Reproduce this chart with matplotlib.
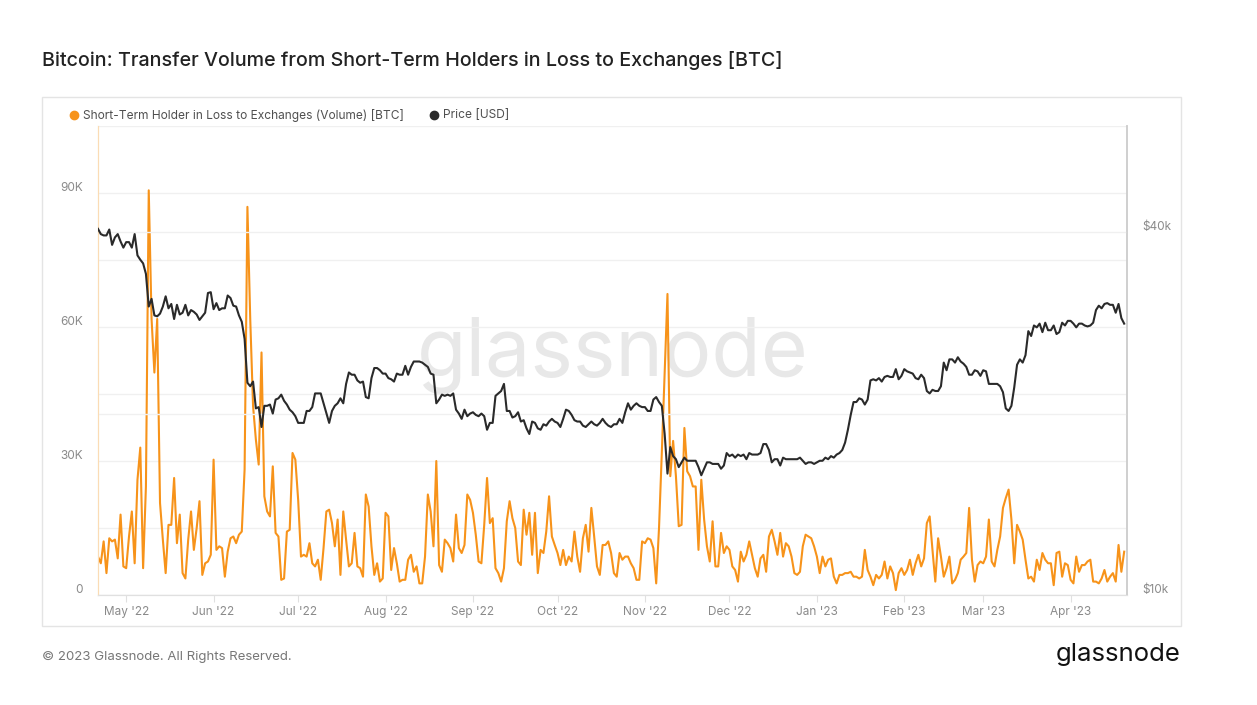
import matplotlib
matplotlib.use("Agg")
import matplotlib.pyplot as plt
import matplotlib.dates as mdates
import matplotlib.transforms as mtransforms
from matplotlib.lines import Line2D
from matplotlib.patches import Rectangle
from matplotlib.ticker import FixedLocator, FuncFormatter, NullFormatter
import pandas as pd

plt.rcParams["font.family"] = ["Inter", "DejaVu Sans"]

# daily series, first day 2022-04-21
START = "2022-04-21"

# STH in loss -> exchanges, thousands of BTC
volume_k = [
    8.6, 7.1, 12.0, 4.9, 12.7, 12.0, 12.4, 8.2, 18.0, 6.4,
    6.0, 13.1, 18.7, 7.1, 25.8, 33.0, 6.0, 24.3, 90.6, 61.8,
    49.8, 61.8, 20.6, 12.4, 4.9, 15.7, 15.7, 26.2, 11.6, 18.0,
    4.9, 3.7, 12.4, 18.7, 10.1, 15.0, 21.0, 4.5, 7.1, 7.5,
    9.0, 30.3, 10.1, 10.9, 10.5, 4.1, 9.7, 12.7, 13.1, 11.6,
    13.5, 14.2, 28.1, 86.9, 61.8, 42.3, 34.8, 29.2, 54.3, 22.1,
    18.7, 17.6,
    28.8, 13.9, 13.1, 3.4, 3.7, 14.2, 14.6, 31.8, 30.3, 21.3,
    8.6, 9.0, 8.6, 11.6, 7.1, 6.4, 7.9, 3.4, 10.5, 18.7,
    19.1, 16.1, 10.9, 16.9, 4.5, 18.7, 12.4, 6.4, 7.1, 13.9,
    6.4, 6.0, 4.1, 22.5, 19.8, 10.9, 4.5, 7.1, 3.0, 3.7,
    18.4, 17.6, 5.6, 10.5, 7.1, 3.0, 3.4, 3.4, 7.9, 9.0,
    5.2, 6.4, 2.6, 2.6, 8.6, 22.5, 18.7, 10.9, 30.0,
    6.7, 5.2, 12.4, 11.6, 10.5, 7.5, 18.0, 10.5, 9.4, 11.2,
    22.5, 21.3, 18.4, 13.5, 7.5, 7.1, 15.7, 26.2, 16.1, 17.2,
    6.0, 4.9, 3.0, 6.0, 16.5, 21.0, 17.2, 15.0, 7.5, 6.7,
    19.1, 13.5, 18.4, 9.0, 18.4, 4.9, 10.1, 9.4, 14.2, 22.1,
    13.1, 11.2, 9.4, 6.7, 10.1, 6.7, 8.6, 7.5, 14.2, 8.6,
    5.2, 12.7, 15.7, 9.7, 19.5, 13.1, 6.4, 4.5, 11.2, 11.2,
    12.0,
    9.4, 4.9, 4.1, 9.4, 7.9, 8.6, 8.6, 7.1, 6.0, 3.4,
    3.4, 12.0, 11.6, 12.7, 12.4, 10.5, 2.6, 15.0, 32.0, 50.0,
    67.4,
    26.6, 34.5, 26.6, 15.4, 15.7, 37.4, 27.7, 26.6, 24.3, 24.3,
    10.1, 25.8, 16.9, 10.9, 7.5, 16.5, 6.4, 6.4, 13.9, 9.4,
    10.9, 10.1, 6.4, 5.6, 3.0, 9.7, 7.5, 9.0, 12.0, 9.0,
    6.0, 4.1, 8.2, 9.0, 5.2, 13.1, 14.6, 12.0, 9.0,
    13.9, 8.6, 11.6, 10.9, 8.6, 4.9, 4.5, 5.2, 10.9, 13.5,
    13.1, 12.7, 10.9, 8.6, 4.9, 8.6, 6.4, 7.9, 8.2, 4.1,
    2.6, 4.5, 4.5, 4.9, 4.9, 5.2, 4.1, 4.1, 3.7, 4.1,
    10.1, 5.6, 4.1, 2.2, 4.5, 3.7, 4.5, 7.5, 3.7, 6.4,
    4.9, 1.1, 4.9, 6.0, 4.5, 5.6, 7.9, 4.5, 7.1, 9.0,
    6.4, 8.2, 16.1, 17.6, 10.1, 3.0, 12.7, 8.6, 4.1, 6.0,
    8.6,
    2.6, 3.4, 4.9, 7.9, 8.6, 9.4, 19.5, 7.9, 3.0, 6.7,
    7.5, 7.1, 8.6, 16.9, 7.5, 6.4, 10.1, 13.1, 19.5, 21.7,
    23.6, 16.9, 7.1, 15.7, 14.2, 12.4, 7.9, 3.7, 4.1, 3.0,
    7.9, 5.6, 9.4, 7.9, 7.1, 7.1, 2.2, 9.4, 9.7, 4.1,
    7.1, 6.7, 3.4, 2.6, 8.6, 5.2, 6.7, 6.7, 7.5, 7.9,
    3.0, 3.0, 2.6, 3.7, 5.6, 3.0, 4.1, 4.9, 3.0, 11.2,
    5.2, 9.7,
]

# BTC price, thousands of USD
price_k = [
    40.5, 39.7, 39.5, 39.5, 40.4, 38.1, 39.2, 39.7, 38.6, 37.7,
    # May
    38.5, 38.5, 37.7, 39.7, 36.6, 36.0, 35.5, 34.1, 30.1, 31.0, 29.1, 29.0, 29.3, 30.1, 31.3, 29.9,
    30.4, 28.7, 30.3, 29.2, 29.4, 30.3, 29.1, 29.7, 29.5, 29.2, 28.6, 29.0, 29.4, 31.7, 31.8,
    # Jun
    29.8, 30.5, 29.7, 29.9, 29.9, 31.4, 31.1, 30.2, 30.1, 29.1, 28.4, 26.6, 22.5, 22.2, 22.6,
    20.4, 20.5, 19.0, 20.6, 20.6, 20.7, 20.0, 21.1, 21.2, 21.5, 21.0, 20.7, 20.3, 20.1, 19.8,
    # Jul
    19.3, 19.3, 19.3, 20.2, 20.2, 20.5, 21.6, 21.6, 21.6, 20.8, 20.0, 19.3, 20.2, 20.6, 20.8, 21.2,
    20.8, 22.4, 23.4, 23.2, 23.2, 22.7, 22.5, 22.6, 21.3, 21.2, 22.9, 23.8, 23.8, 23.6, 23.3,
    # Aug
    23.3, 22.9, 22.8, 22.6, 23.3, 23.2, 23.2, 24.0, 23.2, 23.9, 24.4, 24.4, 24.4, 24.3, 24.1, 23.9,
    23.3, 23.2, 20.8, 21.1, 21.5, 21.4, 21.5, 21.4, 21.6, 20.3, 20.0, 19.6, 20.3, 19.8, 20.0,
    # Sep
    20.1, 19.9, 19.8, 20.0, 19.8, 18.8, 19.3, 19.3, 21.4, 21.6, 21.8, 22.4, 20.2, 20.2, 19.7,
    19.8, 20.1, 19.4, 19.5, 18.9, 18.5, 19.4, 19.3, 18.9, 18.8, 19.2, 19.1, 19.4, 19.6, 19.4,
    # Oct
    19.3, 19.0, 19.6, 20.3, 20.2, 19.9, 19.5, 19.4, 19.4, 19.1, 19.0, 19.2, 19.4, 19.2, 19.1, 19.3,
    19.6, 19.3, 19.1, 19.0, 19.2, 19.2, 19.6, 19.3, 20.1, 20.8, 20.3, 20.6, 20.8, 20.6, 20.5,
    # Nov
    20.5, 20.2, 20.2, 21.1, 21.3, 20.9, 20.6, 18.5, 15.9, 17.6, 17.0, 16.8, 16.3, 16.6, 16.9,
    16.7, 16.7, 16.7, 16.7, 16.3, 15.8, 16.2, 16.6, 16.6, 16.5, 16.5, 16.5, 16.2, 16.4, 17.2,
    # Dec
    17.0, 17.1, 16.9, 17.1, 17.0, 17.1, 16.8, 17.2, 17.1, 17.1, 17.1, 17.2, 17.8, 17.8, 17.4, 16.6,
    16.8, 16.8, 16.4, 16.9, 16.8, 16.8, 16.8, 16.8, 16.8, 16.9, 16.7, 16.5, 16.6, 16.6, 16.5,
    # Jan
    16.6, 16.7, 16.7, 16.9, 16.8, 17.0, 16.9, 17.1, 17.2, 17.4, 17.9, 18.8, 19.9, 20.9, 20.9, 21.2,
    21.1, 20.7, 21.1, 22.7, 22.8, 22.7, 22.9, 22.6, 23.0, 23.1, 23.0, 23.0, 23.7, 22.8, 23.1,
    # Feb
    23.7, 23.5, 23.4, 23.3, 22.9, 22.8, 23.2, 22.9, 21.8, 21.6, 21.9, 21.8, 21.8, 22.2,
    24.3, 23.6, 24.6, 24.6, 24.3, 24.8, 24.4, 24.2, 23.9, 23.2, 23.2, 23.6, 23.5, 23.1,
    # Mar
    23.6, 23.5, 22.4, 22.4, 22.4, 22.4, 22.2, 21.7, 20.4, 20.2, 20.6, 22.1, 24.1, 24.6, 24.3, 25.0,
    27.4, 26.9, 28.0, 27.8, 28.2, 27.3, 28.3, 27.5, 27.5, 28.0, 27.1, 27.3, 28.3, 28.0, 28.5,
    # Apr
    28.5, 28.2, 27.8, 28.2, 28.2, 28.0, 27.9, 28.0, 28.3, 29.7,
    30.2, 29.9, 30.4, 30.5, 30.3, 30.3, 29.4, 30.4, 28.8, 28.2,
]

vol_ticks = [0, 30000, 60000, 90000]
vol_grid = [15000, 45000, 75000, 105000]
price_ticks = [10000, 20000, 40000]
price_labels = {10000: "$10k", 40000: "$40k"}

ORANGE = "#F7931A"
BLACK = "#2a2a2a"
GRAY = "#8a8a8a"

dates = pd.date_range(START, periods=len(volume_k), freq="D")
volume = [v * 1000 for v in volume_k]
price = [p * 1000 for p in price_k]

W, H = 1257, 705
fig = plt.figure(figsize=(W / 100, H / 100), dpi=100)

# panel frame
fig.patches.append(Rectangle((42 / W, 1 - 626 / H), 1139 / W, 529 / H,
                             transform=fig.transFigure, facecolor="none",
                             edgecolor="#e4e4e4", linewidth=1))

ax = fig.add_axes([98 / W, 1 - 595 / H, (1127 - 98) / W, (595 - 126) / H])
ax2 = ax.twinx()

ax.text(0.5, 0.51, "glassnode", transform=ax.transAxes, ha="center", va="center",
        fontsize=58, color="#e8e8e8", zorder=0)

ax.plot(dates, volume, color=ORANGE, linewidth=1.5, zorder=3)
ax2.plot(dates, price, color=BLACK, linewidth=1.5, zorder=3)

ax.set_xlim(pd.Timestamp(START), pd.Timestamp(START) + pd.Timedelta(days=365))
ax.set_ylim(0, 105000)
ax.yaxis.set_major_locator(FixedLocator(vol_ticks))
ax.yaxis.set_minor_locator(FixedLocator(vol_grid))
ax.yaxis.set_major_formatter(FuncFormatter(lambda v, p: "0" if v == 0 else f"{int(v / 1000)}K"))
ax.yaxis.set_minor_formatter(NullFormatter())
ax.grid(axis="y", which="both", color="#f0f0f0", linewidth=1)

ax2.set_yscale("log")
ax2.set_ylim(10000, 60000)
ax2.yaxis.set_major_locator(FixedLocator(price_ticks))
ax2.yaxis.set_minor_locator(FixedLocator([]))
ax2.yaxis.set_major_formatter(FuncFormatter(lambda v, p: price_labels.get(int(round(v)), "")))
ax2.grid(axis="y", which="major", color="#f0f0f0", linewidth=1, zorder=0)

ax.xaxis.set_major_locator(mdates.MonthLocator())
ax.xaxis.set_major_formatter(mdates.DateFormatter("%b '%y"))

ax.tick_params(axis="x", length=5, color="#e0e0e0", labelcolor=GRAY, labelsize=8.5, pad=3)
ax.tick_params(axis="y", which="both", length=0, labelcolor=GRAY, labelsize=8.5, pad=11)
ax2.tick_params(axis="y", which="both", length=0, labelcolor=GRAY, labelsize=8.5, pad=11)

# labels sit just above their grid line
shift = mtransforms.ScaledTranslation(0, 0.065, fig.dpi_scale_trans)
for lbl in ax.get_yticklabels() + ax2.get_yticklabels():
    lbl.set_transform(lbl.get_transform() + shift)

for a in (ax, ax2):
    a.spines["top"].set_visible(False)
    a.spines["bottom"].set_color("#e0e0e0")
    a.spines["left"].set_color("#fbdcb5")
    a.spines["right"].set_color("#cfcfcf")
    a.spines["right"].set_linewidth(1.2)

# legend
ly = 1 - 115 / H
fig.add_artist(Line2D([74 / W], [ly], marker="o", markersize=6, color=ORANGE,
                      linestyle="none", transform=fig.transFigure))
fig.text(83 / W, ly, "Short-Term Holder in Loss to Exchanges (Volume) [BTC]",
         fontsize=8.6, color="#505050", va="center")
fig.add_artist(Line2D([434 / W], [ly], marker="o", markersize=6, color=BLACK,
                      linestyle="none", transform=fig.transFigure))
fig.text(443 / W, ly, "Price [USD]", fontsize=8.6, color="#505050", va="center")

fig.text(42 / W, 1 - 60 / H,
         "Bitcoin: Transfer Volume from Short-Term Holders in Loss to Exchanges [BTC]",
         fontsize=14.2, fontweight="medium", color="#222222", va="center")
fig.text(42 / W, 1 - 657 / H, "\u00a9 2023 Glassnode. All Rights Reserved.",
         fontsize=9.5, color="#777777", va="center")
fig.text(1181 / W, 1 - 655 / H, "glassnode", fontsize=18.5, color="#111111",
         ha="right", va="center")

fig.savefig("out.png", dpi=100, facecolor="white")
